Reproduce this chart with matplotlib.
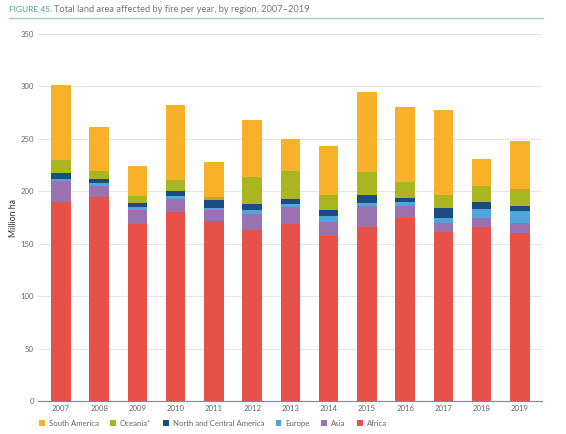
import matplotlib
matplotlib.use("Agg")
import matplotlib.pyplot as plt
import numpy as np

plt.rcParams['font.family'] = ['Lato', 'DejaVu Sans']

years = ['2007', '2008', '2009', '2010', '2011', '2012', '2013',
         '2014', '2015', '2016', '2017', '2018', '2019']
africa        = [189.6, 194.4, 169.0, 179.8, 171.2, 163.2, 169.0, 157.8, 166.4, 175.0, 161.6, 165.8, 160.0]
asia          = [20.4, 10.2, 12.7, 13.3, 11.1, 15.3, 15.9, 13.1, 19.1, 10.5, 8.0, 8.3, 10.2]
europe        = [1.6, 3.2, 3.2, 2.6, 1.9, 3.8, 2.5, 5.1, 3.8, 4.5, 5.4, 8.9, 10.8]
north_central = [6.3, 3.8, 4.4, 4.4, 7.7, 5.7, 5.7, 5.7, 7.6, 3.8, 9.2, 7.0, 5.1]
oceania       = [11.5, 8.2, 6.4, 10.8, 3.1, 26.1, 26.7, 15.2, 21.7, 14.6, 12.7, 15.2, 15.9]
south_america = [72.2, 41.4, 28.6, 71.6, 33.1, 54.1, 29.9, 46.5, 76.3, 71.9, 80.8, 25.5, 46.2]

series = [
    ('Africa', africa, '#E8504A'),
    ('Asia', asia, '#9B72B0'),
    ('Europe', europe, '#4EA6DC'),
    ('North and Central America', north_central, '#1C4C82'),
    ('Oceania*', oceania, '#A9B521'),
    ('South America', south_america, '#F9B12A'),
]

W, H = 566, 434
fig = plt.figure(figsize=(W/100, H/100), dpi=100)
ax = fig.add_axes([38/W, 1 - 401/H, (542-38)/W, (401-34)/H])

x = np.arange(len(years))
bottom = np.zeros(len(years))
handles = {}
for name, vals, col in series:
    b = ax.bar(x, vals, bottom=bottom, width=0.51, color=col, label=name, zorder=2)
    handles[name] = b
    bottom += np.array(vals)

ax.set_xlim(-0.6, len(years) - 0.42)
ax.set_ylim(0, 350)
ax.set_yticks(np.arange(0, 351, 50))
ax.set_xticks(x)
ax.set_xticklabels(years)
ax.grid(axis='y', color='#e6e6e6', linewidth=0.8, zorder=0)
for s in ['top', 'right', 'left']:
    ax.spines[s].set_visible(False)
ax.spines['bottom'].set_color('#888888')
ax.spines['bottom'].set_linewidth(0.8)
ax.tick_params(axis='y', length=0, labelsize=5.6, colors='#666666', pad=3)
ax.tick_params(axis='x', length=0, labelsize=5.6, colors='#666666', pad=3)
ax.set_ylabel('Million ha', fontsize=6.3, color='#333333')
ax.yaxis.set_label_coords(-0.040, 0.5)

order = ['South America', 'Oceania*', 'North and Central America', 'Europe', 'Asia', 'Africa']
leg = fig.legend([handles[n] for n in order], order, loc='center left',
                 bbox_to_anchor=(32/W, 1 - 423.5/H), ncol=6, frameon=False,
                 fontsize=5.6, handlelength=0.75, handleheight=0.75, handletextpad=0.5,
                 columnspacing=1.5, labelcolor='#666666')

fig.canvas.draw()
r = fig.canvas.get_renderer()
t1 = fig.text(9/W, 1 - 9.5/H, 'FIGURE 45.', fontsize=7, color='#4E9C8F', va='center', ha='left')
w1 = t1.get_window_extent(r).width
t1.set_fontsize(7 * 43 / w1)
t2 = fig.text(54/W, 1 - 9.5/H, 'Total land area affected by fire per year, by region, 2007–2019',
              fontsize=8.5, color='#777777', va='center', ha='left')
w2 = t2.get_window_extent(r).width
t2.set_fontsize(8.5 * 256 / w2)
fig.add_artist(plt.Line2D([9/W, 543/W], [1 - 17.5/H, 1 - 17.5/H],
                          color='#A9C9C3', linewidth=1.0))

fig.savefig('out.png', dpi=100)
